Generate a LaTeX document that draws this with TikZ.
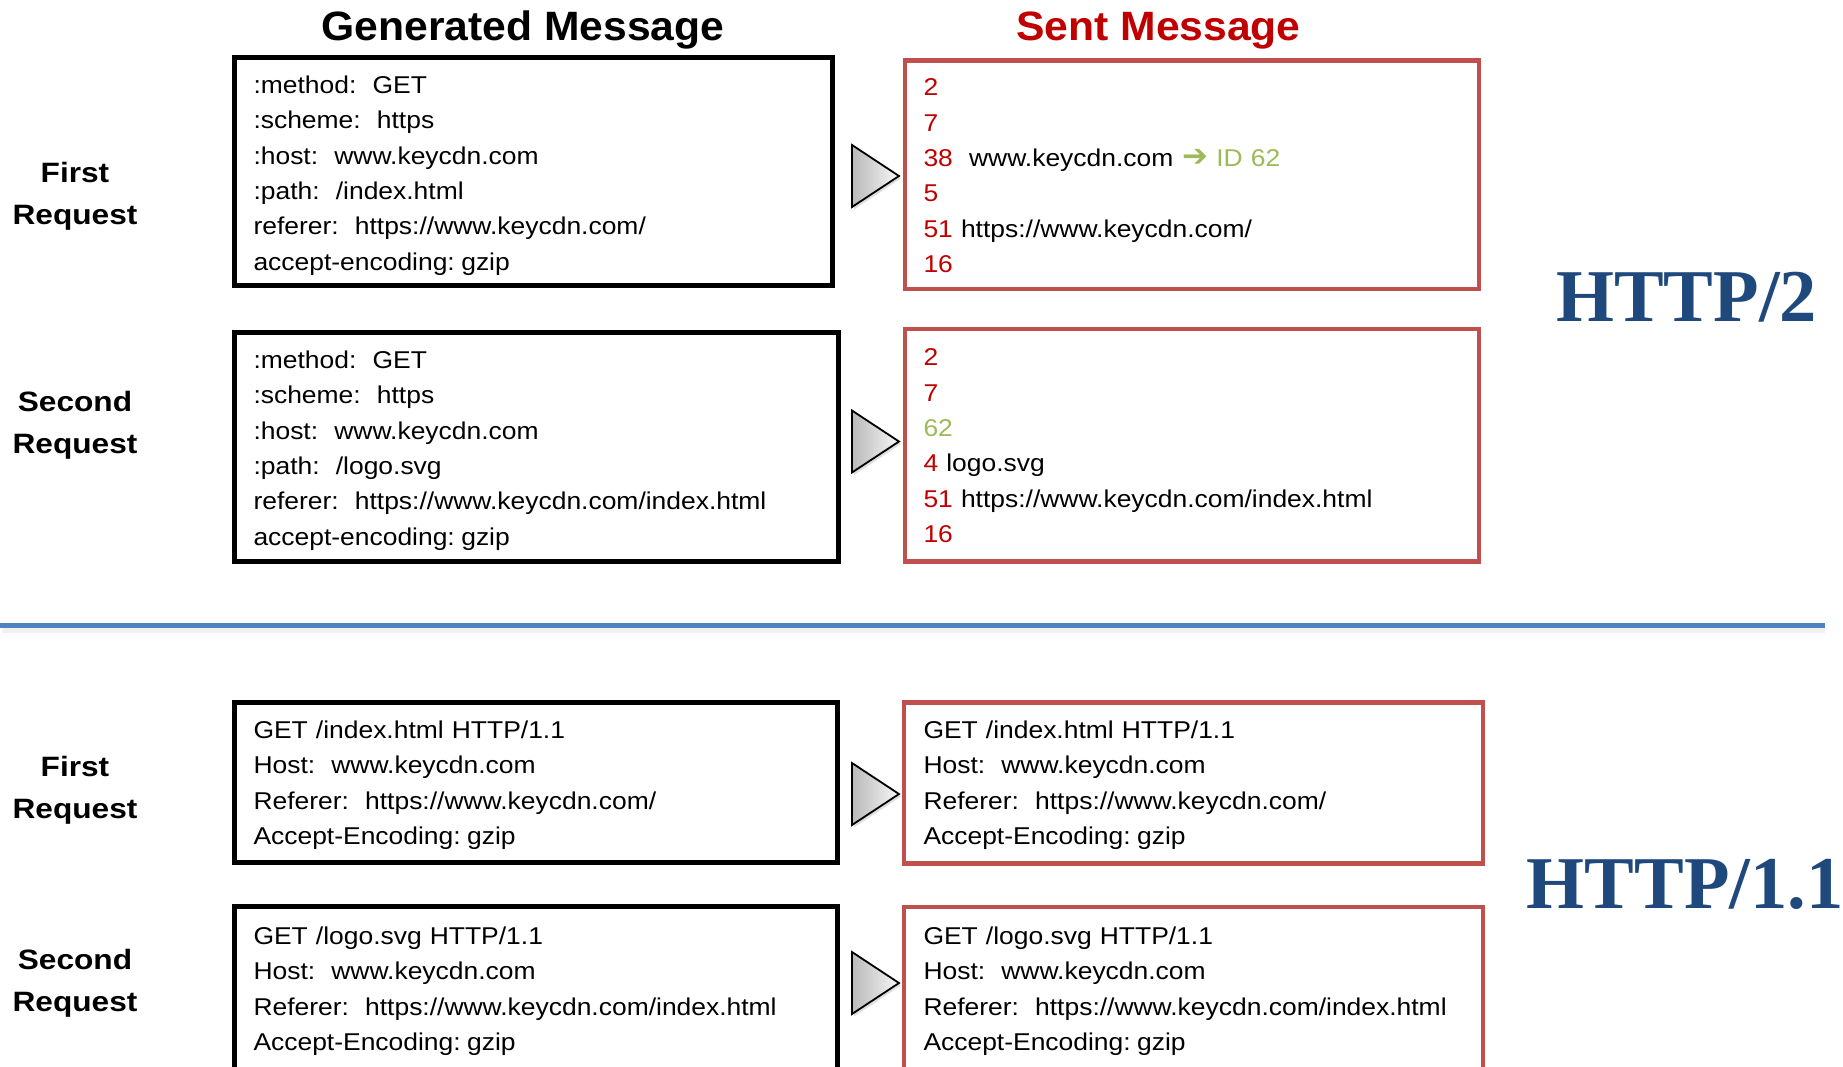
\documentclass[tikz,border=0pt]{standalone}
\usepackage{fontspec}
\usetikzlibrary{shadows}
\setmainfont{Liberation Sans}
\newfontfamily\bodyfam{Liberation Sans}[FakeStretch=1.088]
\newfontfamily\labelfam{Liberation Sans}[FakeStretch=1.13]
\newfontfamily\titlefam{Liberation Sans}[FakeStretch=1.04]
\newfontfamily\protofam{Liberation Serif}
\newfontfamily\symfam{DejaVu Sans}

\definecolor{numred}{HTML}{C00000}
\definecolor{boxred}{HTML}{C0504D}
\definecolor{idgreen}{HTML}{9BBB59}
\definecolor{rulebl}{HTML}{4F81BD}
\definecolor{protobl}{HTML}{1F497D}

\newcommand\rn[1]{\textcolor{numred}{#1}}
\newcommand\gn[1]{\textcolor{idgreen}{#1}}
\newcommand\tsp{\hspace{6.5pt}}

\tikzset{
  genbox/.style={draw=black, line width=5pt, inner sep=0pt, outer sep=0pt},
  sentbox/.style={draw=boxred, line width=4.5pt, inner sep=0pt, outer sep=0pt},
  lines/.style={font=\bodyfam\fontsize{24.3}{35.35}\selectfont, text width=640pt,
    align=left, inner sep=0pt, anchor=base west},
  rowlabel/.style={font=\labelfam\bfseries\fontsize{28}{42}\selectfont,
    text width=160pt, align=center, inner sep=0pt, anchor=base},
  coltitle/.style={font=\titlefam\bfseries\fontsize{41}{41}\selectfont,
    inner sep=0pt, anchor=base},
  proto/.style={font=\protofam\bfseries\fontsize{74.5}{74.5}\selectfont,
    text=protobl, inner sep=0pt, anchor=base west},
  tri/.style={draw=black, line width=1.8pt, line join=miter,
    left color=gray!55, right color=gray!6,
    drop shadow={shadow xshift=2pt, shadow yshift=-2.5pt, opacity=0.25, fill=gray}},
  sendarrow/.pic={\path[tri] (-23.5,-31) -- (23.5,0) -- (-23.5,31) -- cycle;}
}

\begin{document}
\begin{tikzpicture}[x=1pt, y=-1pt]
\clip (0,0) rectangle (1843,1066);
\fill[white] (0,0) rectangle (1843,1066);

% column headings
\node[coltitle] (htgen) at (523,40) {Generated Message};
\node[coltitle, text=numred] (htsent) at (1158.5,40) {Sent Message};

% row headings
\node[rowlabel] (r1) at (75,182) {First\\Request};
\node[rowlabel] (r2) at (75,411) {Second\\Request};
\node[rowlabel] (r3) at (75,776.5) {First\\Request};
\node[rowlabel] (r4) at (75,969.5) {Second\\Request};

% ---------- HTTP/2 ----------
\node[genbox, minimum width=598pt, minimum height=228pt] (g1) at (533,171.5) {};
\node[lines] (g1t) at (253.3,93.3) {:method:~~GET\\
:scheme:~~https\\
:host:~~www.keycdn.com\\
:path:~~/index.html\\
referer:~~https://www.keycdn.com/\\
accept-encoding:\tsp gzip};

\node[sentbox, minimum width=574pt, minimum height=228.5pt] (s1) at (1192,174.75) {};
\node[lines] (s1t) at (923.3,95.7) {\rn{2}\\
\rn{7}\\
\rn{38}~~www.keycdn.com\hspace{9pt}\gn{{\symfam\bfseries\fontsize{31}{31}\selectfont ➔}\hspace{8pt}ID 62}\\
\rn{5}\\
\rn{51} https://www.keycdn.com/\\
\rn{16}};

\node[genbox, minimum width=604pt, minimum height=229pt] (g2) at (536,447) {};
\node[lines] (g2t) at (253.3,368.5) {:method:~~GET\\
:scheme:~~https\\
:host:~~www.keycdn.com\\
:path:~~/logo.svg\\
referer:~~https://www.keycdn.com/index.html\\
accept-encoding:\tsp gzip};

\node[sentbox, minimum width=574pt, minimum height=232.5pt] (s2) at (1192,445.25) {};
\node[lines] (s2t) at (923.3,365.8) {\rn{2}\\
\rn{7}\\
\gn{62}\\
\rn{4} logo.svg\\
\rn{51} https://www.keycdn.com/index.html\\
\rn{16}};

\pic at (875.5,176) {sendarrow};
\pic at (875.5,441.5) {sendarrow};

\node[proto] (p2) at (1556,321.7) {HTTP/2};

% separator between the two protocols
\draw[line width=7pt, black, opacity=0.06] (2,629.5) -- (1825,629.5);
\draw[line width=5.3pt, rulebl] (0,625.3) -- (1825,625.3);

% ---------- HTTP/1.1 ----------
\node[genbox, minimum width=603pt, minimum height=160pt] (g3) at (535.5,782.5) {};
\node[lines] (g3t) at (253.3,738.5) {GET /index.html HTTP/1.1\\
Host:~~www.keycdn.com\\
Referer:~~https://www.keycdn.com/\\
Accept-Encoding:\tsp gzip};

\node[sentbox, minimum width=579pt, minimum height=161pt] (s3) at (1193.5,783) {};
\node[lines] (s3t) at (923.3,738.5) {GET /index.html HTTP/1.1\\
Host:~~www.keycdn.com\\
Referer:~~https://www.keycdn.com/\\
Accept-Encoding:\tsp gzip};

\node[genbox, minimum width=603pt, minimum height=204pt] (g4) at (535.5,1008) {};
\node[lines] (g4t) at (253.3,944.5) {GET /logo.svg HTTP/1.1\\
Host:~~www.keycdn.com\\
Referer:~~https://www.keycdn.com/index.html\\
Accept-Encoding:\tsp gzip};

\node[sentbox, minimum width=579pt, minimum height=203pt] (s4) at (1193.5,1008.5) {};
\node[lines] (s4t) at (923.3,944.5) {GET /logo.svg HTTP/1.1\\
Host:~~www.keycdn.com\\
Referer:~~https://www.keycdn.com/index.html\\
Accept-Encoding:\tsp gzip};

\pic at (875.5,794) {sendarrow};
\pic at (875.5,983) {sendarrow};

\node[proto] (p11) at (1526.5,908.3) {HTTP/1.1};
\end{tikzpicture}
\end{document}
